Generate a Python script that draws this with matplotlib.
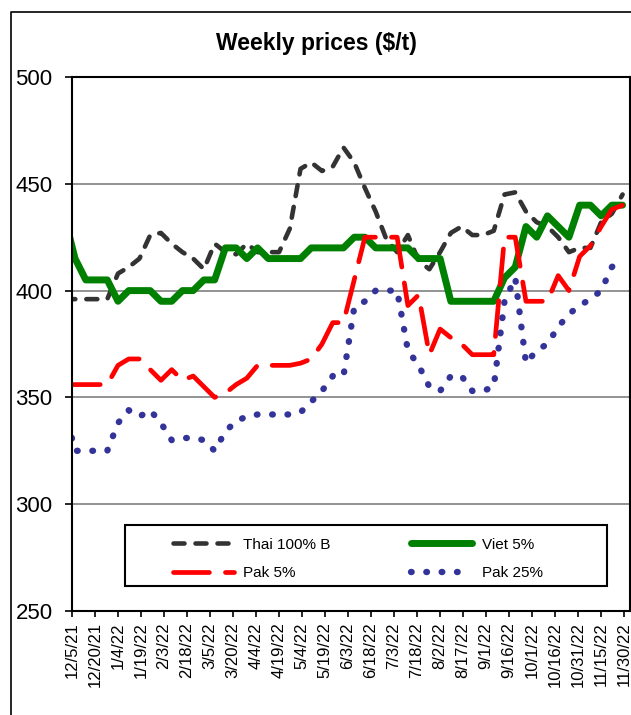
import pandas as pd
import matplotlib
matplotlib.use('Agg')
import matplotlib.pyplot as plt
from matplotlib.patches import Rectangle
from matplotlib.lines import Line2D

plt.rcParams['font.family'] = ['Liberation Sans', 'DejaVu Sans']

# weekly quotes, first point (11/30/21) sits just left of the axis and is clipped
weeks = pd.date_range('2021-11-30', periods=53, freq='7D')

thai = [396, 396, 396, 396, 396, 408, 411, 415, 426, 427, 422, 418, 415, 410,
        422, 418, 417, 422, 418, 418, 418, 429, 457, 460, 456, 458, 467, 460,
        448, 437, 424, 418, 426, 414, 410, 418, 427, 430, 426, 426, 428, 445,
        446, 437, 432, 430, 425, 418, 420, 420, 432, 436, 445]
viet = [435, 415, 405, 405, 405, 395, 400, 400, 400, 395, 395, 400, 400, 405,
        405, 420, 420, 415, 420, 415, 415, 415, 415, 420, 420, 420, 420, 425,
        425, 420, 420, 420, 420, 415, 415, 415, 395, 395, 395, 395, 395, 406,
        411, 430, 425, 435, 430, 425, 440, 440, 435, 440, 440]
pak5 = [356, 356, 356, 356, 356, 365, 368, 368, 363, 358, 363, 358, 360, 355,
        350, 352, 356, 359, 365, 365, 365, 365, 366, 368, 375, 385, 385, 405,
        425, 425, 425, 425, 393, 398, 370, 382, 378, 375, 370, 370, 370, 425,
        425, 395, 395, 395, 407, 400, 416, 421, 430, 438, 440]
pak25 = [345, 325, 325, 325, 325, 338, 344, 341, 344, 338, 330, 331, 331, 330,
         325, 334, 339, 341, 342, 342, 342, 342, 343, 348, 353, 360, 360, 392,
         395, 400, 400, 400, 372, 365, 355, 353, 360, 360, 353, 353, 355, 395,
         406, 366, 372, 375, 383, 389, 393, 396, 400, 411, 416]

series_labels = ['Thai 100% B', 'Viet 5%', 'Pak 5%', 'Pak 25%']
y_ticks = [250, 300, 350, 400, 450, 500]
x_start = pd.Timestamp('2021-12-05')
x_ticks = pd.date_range(x_start, '2022-11-30', freq='15D')
x_labels = [f"{d.month}/{d.day}/{d.year % 100}" for d in x_ticks]

W, H = 631, 715
fig = plt.figure(figsize=(W / 100, H / 100), dpi=100)
ax = fig.add_axes([72 / W, 1 - 611 / H, (629.5 - 72) / W, (611 - 77) / H])

l_thai, = ax.plot(weeks, thai, color='#333333', lw=3.3, dashes=(2.4, 2.4),
                  dash_capstyle='round', dash_joinstyle='round')
l_viet, = ax.plot(weeks, viet, color='#008000', lw=5,
                  solid_capstyle='round', solid_joinstyle='round')
l_pak5, = ax.plot(weeks, pak5, color='#ff0000', lw=3.4, dashes=(7.6, 3.4),
                  dash_capstyle='round', dash_joinstyle='round')
l_pak25, = ax.plot(weeks, pak25, color='#333399', lw=4.6, dashes=(0.1, 2.3),
                   dash_capstyle='round', dash_joinstyle='round')

ax.set_ylim(250, 500)
ax.set_yticks(y_ticks)
ax.set_xlim(x_start, x_start + pd.Timedelta(days=363.5))
ax.set_xticks(x_ticks)
ax.set_xticklabels(x_labels)
ax.yaxis.grid(True, color='#808080', lw=1.2)
ax.set_axisbelow(True)

ax.tick_params(axis='y', direction='out', length=5, width=1.2, labelsize=16, pad=9)
ax.tick_params(axis='x', direction='out', length=4.5, width=1.2, labelsize=12,
               pad=3.5, labelrotation=90)
for s in ax.spines.values():
    s.set_linewidth(1.5)
    s.set_color('black')

fig.text(316 / W, 1 - 50 / H, 'Weekly prices ($/t)', ha='center', va='baseline',
         fontsize=16.5, fontweight='bold')

# outer chart border (only top and left are inside the image)
fig.add_artist(Line2D([11 / W, 11 / W, 1.0], [0, 1 - 12 / H, 1 - 12 / H],
                      transform=fig.transFigure, color='black', lw=1.2))

# legend box
ax.add_patch(Rectangle((125 / W, 1 - 586 / H), 482 / W, 61 / H,
                       transform=fig.transFigure, facecolor='white',
                       edgecolor='black', lw=1.5, zorder=4, clip_on=False))
leg = ax.legend([l_thai, l_pak5, l_viet, l_pak25],
                [series_labels[0], series_labels[2], series_labels[1], series_labels[3]],
                ncol=2, loc='upper left', bbox_to_anchor=(165 / W, 1 - 530 / H),
                bbox_transform=fig.transFigure, frameon=False, borderpad=0,
                handlelength=4.0, handletextpad=0.6, columnspacing=5.3,
                labelspacing=0.95, fontsize=11)
leg.set_zorder(5)

fig.savefig('out.png', dpi=100)
